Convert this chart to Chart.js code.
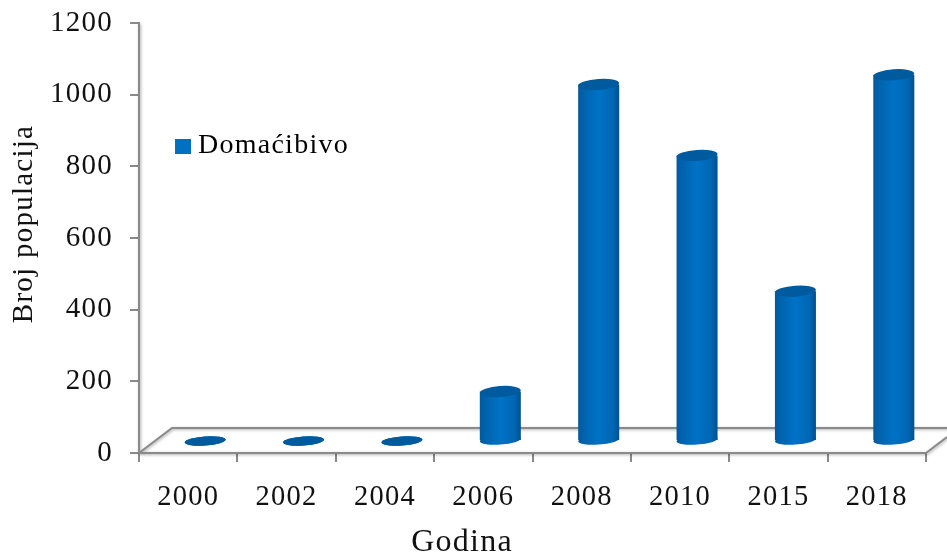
<!DOCTYPE html>
<html>
<head>
<meta charset="utf-8">
<style>html,body{margin:0;padding:0;background:#fff}#w{width:947px;height:554px;position:relative}</style>
<script src="https://cdn.jsdelivr.net/npm/chart.js@4"></script>
</head>
<body>
<div id="w"><canvas id="c" width="947" height="554"></canvas></div>
<script>
const categories = ['2000','2002','2004','2006','2008','2010','2015','2018'];
const populationValues = [0,0,0,138,995,797,418,1022];
const seriesName = 'Domaćibivo';
const xTitle = 'Godina';
const yTitle = 'Broj populacija';

const AXIS = '#8a8a8a';
const SERIF = '"Liberation Serif", serif';
const DEPTH = {x:17, y:-12};

const swatch = document.createElement('canvas');
swatch.width = 16; swatch.height = 15;
const swCtx = swatch.getContext('2d');
swCtx.fillStyle = '#0070c0';
swCtx.fillRect(0,0,16,15);

function ell(ctx, x, y, rx, ry){
  ctx.beginPath();
  ctx.ellipse(x, y, rx, ry, -0.07, 0, Math.PI*2);
  ctx.fill();
}
function barGradient(chart, i, halfW){
  const cx = chart.scales.x.getPixelForValue(i);
  const g = chart.ctx.createLinearGradient(cx-halfW,0,cx+halfW,0);
  g.addColorStop(0,'#005a9c');
  g.addColorStop(0.12,'#0062ac');
  g.addColorStop(0.5,'#0072c6');
  g.addColorStop(0.85,'#0066b2');
  g.addColorStop(1,'#00508c');
  return g;
}

const scene = {
  id:'scene',
  beforeDraw(chart){ chart.ctx.letterSpacing = '1.25px'; },
  afterLayout(chart){
    const l = chart.legend;
    l.left = 170; l.right = 360; l.top = 120; l.bottom = 170;
    l.adjustHitBoxes && l.adjustHitBoxes();
  },
  beforeDatasetsDraw(chart){
    const {ctx, scales:{x,y}} = chart;
    const y0 = y.getPixelForValue(0);
    ctx.save();
    ctx.lineWidth = 2;
    ctx.strokeStyle = AXIS;
    ctx.shadowColor = 'rgba(0,0,0,0.35)';
    ctx.shadowBlur = 3;
    ctx.shadowOffsetX = 1; ctx.shadowOffsetY = 1;
    ctx.beginPath();
    ctx.moveTo(x.left, y0);
    ctx.lineTo(x.left+33, y0-25);
    ctx.lineTo(947, y0-25);
    ctx.moveTo(x.right, y0);
    ctx.lineTo(x.right+21, y0-16);
    ctx.moveTo(x.left, y0);
    ctx.lineTo(x.right, y0);
    ctx.moveTo(x.left, y.top);
    ctx.lineTo(x.left, y0);
    ctx.stroke();
    ctx.restore();
    ctx.save();
    ctx.translate(DEPTH.x, DEPTH.y);
  },
  afterDatasetsDraw(chart){
    const {ctx} = chart;
    chart.getDatasetMeta(0).data.forEach((b,i)=>{
      const hw = b.width/2;
      ctx.fillStyle = barGradient(chart,i,hw);
      ell(ctx,b.x,b.base,hw,4.5);
      ctx.fillStyle = '#005a9e';
      ell(ctx,b.x,b.y,hw,populationValues[i]===0?4.5:5.5);
    });
    ctx.restore();
  },
  afterDraw(chart){
    const {ctx} = chart;
    ctx.save();
    ctx.fillStyle = '#111';
    ctx.textAlign = 'center';
    ctx.textBaseline = 'alphabetic';
    ctx.font = '32px '+SERIF;
    ctx.fillText(xTitle, 462, 551);
    ctx.translate(32, 224);
    ctx.rotate(-Math.PI/2);
    ctx.font = '29px '+SERIF;
    ctx.fillText(yTitle, 0, 0);
    ctx.restore();
  }
};

new Chart(document.getElementById('c'),{
  type:'bar',
  plugins:[scene],
  data:{
    labels:categories,
    datasets:[{
      label:seriesName,
      data:populationValues,
      clip:false,
      borderWidth:0,
      barPercentage:0.417,
      categoryPercentage:1,
      backgroundColor(ctx){
        return ctx.chart.chartArea ? barGradient(ctx.chart, ctx.dataIndex, 20.5) : '#0070c0';
      }
    }]
  },
  options:{
    responsive:false,
    animation:false,
    layout:{padding:{top:23,right:21,left:0,bottom:0}},
    plugins:{
      tooltip:{enabled:false},
      title:{display:false},
      legend:{
        display:true,
        position:'chartArea',
        align:'start',
        labels:{
          usePointStyle:true,
          boxWidth:2,boxHeight:15,padding:12,
          color:'#111',
          font:{family:SERIF,size:28},
          generateLabels(){
            return [{text:seriesName,fillStyle:'#0070c0',strokeStyle:'#0070c0',lineWidth:0,hidden:false,datasetIndex:0,pointStyle:swatch}];
          }
        }
      }
    },
    scales:{
      x:{
        afterFit(s){ s.height = 101; },
        border:{color:AXIS,width:2},
        grid:{drawOnChartArea:false,drawTicks:true,tickLength:9,color:AXIS,lineWidth:2,offset:true},
        ticks:{color:'#111',font:{family:SERIF,size:28.5},padding:18,maxRotation:0,autoSkip:false}
      },
      y:{
        min:0,max:1200,
        afterFit(s){ s.width = 139; s.paddingTop = 0; s.paddingBottom = 0; },
        border:{color:AXIS,width:2},
        grid:{drawOnChartArea:false,drawTicks:true,tickLength:9,color:AXIS,lineWidth:2},
        ticks:{stepSize:200,color:'#111',font:{family:SERIF,size:29},padding:17,callback(v){return String(v);}}
      }
    }
  }
});
</script>
</body>
</html>
